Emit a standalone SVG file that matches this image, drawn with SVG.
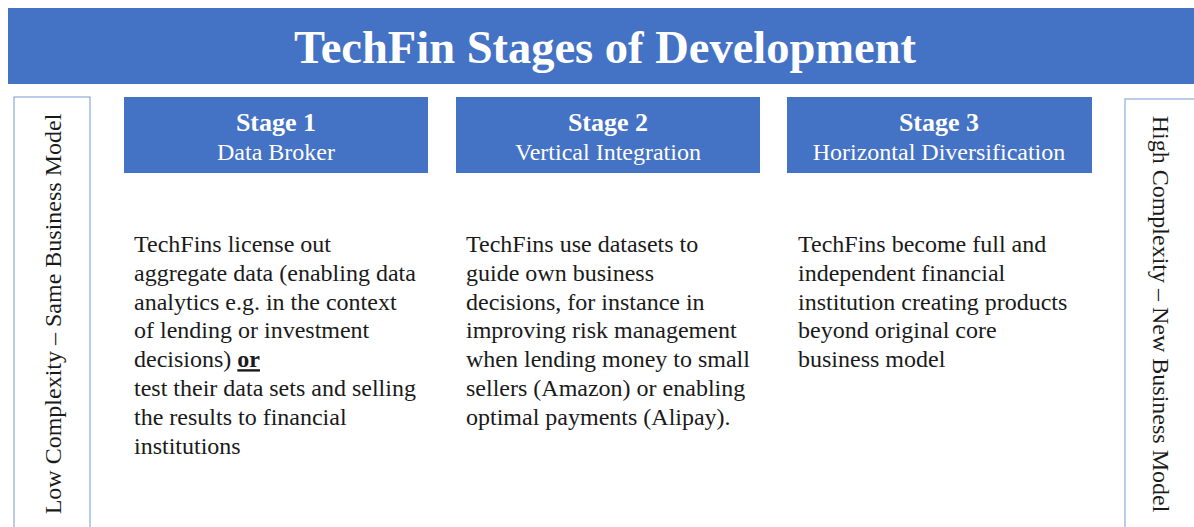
<svg xmlns="http://www.w3.org/2000/svg" width="1194" height="527" viewBox="0 0 1194 527">
<style>
.bar{fill:#4472C4}
.side{fill:#fff;stroke:#8EA9DB;stroke-width:1.2}
.title{font-family:"Liberation Serif","Times New Roman",serif;font-size:46.5px;font-weight:bold;fill:#fff}
.sh{font-family:"Liberation Serif","Times New Roman",serif;font-size:26px;font-weight:bold;fill:#fff}
.ss{font-family:"Liberation Serif","Times New Roman",serif;font-size:24px;fill:#fff}
.bt{font-family:"Liberation Serif","Times New Roman",serif;font-size:24px;fill:#1a1a1a}
.vert{font-family:"Liberation Serif","Times New Roman",serif;font-size:24px;fill:#1a1a1a}
</style>
<rect width="1194" height="527" fill="#fff"/>
<g id="title">
<rect class="bar" x="8" y="8" width="1190" height="76"/>
<text class="title" x="605" y="63" text-anchor="middle">TechFin Stages of Development</text>
</g>
<g id="left-axis">
<rect class="side" x="14" y="97" width="76" height="440"/>
<text class="vert" transform="translate(61,314) rotate(-90)" text-anchor="middle">Low Complexity – Same Business Model</text>
</g>
<g id="right-axis">
<rect class="side" x="1125" y="99" width="80" height="440"/>
<text class="vert" transform="translate(1153,314) rotate(90)" text-anchor="middle">High Complexity – New Business Model</text>
</g>
<g id="stage1">
<rect class="bar" x="124" y="97" width="304" height="76"/>
<text class="sh" x="276" y="131" text-anchor="middle">Stage 1</text>
<text class="ss" x="276" y="160" text-anchor="middle">Data Broker</text>
<text class="bt">
<tspan x="134" y="252">TechFins license out</tspan>
<tspan x="134" y="280.8">aggregate data (enabling data</tspan>
<tspan x="134" y="309.6">analytics e.g. in the context</tspan>
<tspan x="134" y="338.4">of lending or investment</tspan>
<tspan x="134" y="367.2">decisions) <tspan font-weight="bold" text-decoration="underline">or</tspan></tspan>
<tspan x="134" y="396">test their data sets and selling</tspan>
<tspan x="134" y="424.8">the results to financial</tspan>
<tspan x="134" y="453.6">institutions</tspan>
</text>
</g>
<g id="stage2">
<rect class="bar" x="456" y="97" width="304" height="76"/>
<text class="sh" x="608" y="131" text-anchor="middle">Stage 2</text>
<text class="ss" x="608" y="160" text-anchor="middle">Vertical Integration</text>
<text class="bt">
<tspan x="466" y="252">TechFins use datasets to</tspan>
<tspan x="466" y="280.8">guide own business</tspan>
<tspan x="466" y="309.6">decisions, for instance in</tspan>
<tspan x="466" y="338.4">improving risk management</tspan>
<tspan x="466" y="367.2">when lending money to small</tspan>
<tspan x="466" y="396">sellers (Amazon) or enabling</tspan>
<tspan x="466" y="424.8">optimal payments (Alipay).</tspan>
</text>
</g>
<g id="stage3">
<rect class="bar" x="787" y="97" width="305" height="76"/>
<text class="sh" x="939" y="131" text-anchor="middle">Stage 3</text>
<text class="ss" x="939" y="160" text-anchor="middle">Horizontal Diversification</text>
<text class="bt">
<tspan x="798" y="252">TechFins become full and</tspan>
<tspan x="798" y="280.8">independent financial</tspan>
<tspan x="798" y="309.6">institution creating products</tspan>
<tspan x="798" y="338.4">beyond original core</tspan>
<tspan x="798" y="367.2">business model</tspan>
</text>
</g>
<g id="connectors"/>
</svg>
